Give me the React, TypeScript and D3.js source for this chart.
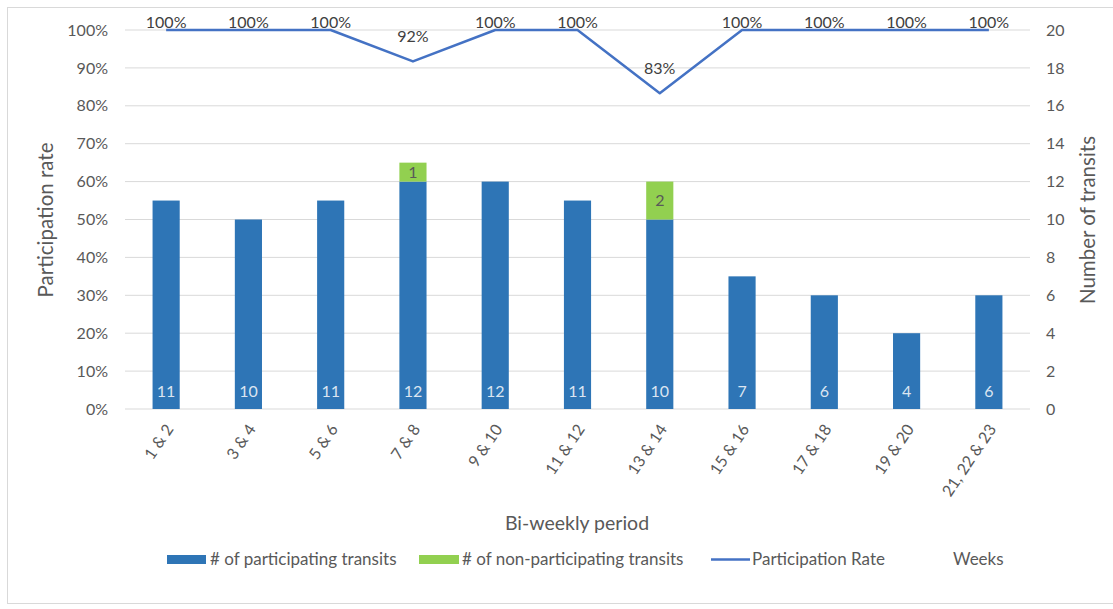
import React from "react";
import * as d3 from "d3";

const categories = ["1 & 2", "3 & 4", "5 & 6", "7 & 8", "9 & 10", "11 & 12", "13 & 14", "15 & 16", "17 & 18", "19 & 20", "21, 22 & 23"];
const participating = [11, 10, 11, 12, 12, 11, 10, 7, 6, 4, 6];
const nonParticipating = [0, 0, 0, 1, 0, 0, 2, 0, 0, 0, 0];
const rateValues = [100, 100, 100, 91.7, 100, 100, 83.3, 100, 100, 100, 100];
const rateLabels = ["100%", "100%", "100%", "92%", "100%", "100%", "83%", "100%", "100%", "100%", "100%"];
const leftTicks = [0, 10, 20, 30, 40, 50, 60, 70, 80, 90, 100];
const rightTicks = [0, 2, 4, 6, 8, 10, 12, 14, 16, 18, 20];

const W = 1113, H = 609;
const M = { left: 125, right: 1030, top: 30, bottom: 409 };
const FONT = "Lato, 'Open Sans', sans-serif";
const GRAY = "#595959";
const BLUE = "#2E75B6";
const GREEN = "#92D050";
const LINE = "#4472C4";

export default function App() {
  const x = d3.scaleBand<string>().domain(categories).range([M.left, M.right]).paddingInner(0).paddingOuter(0);
  const bw = x.bandwidth() * 0.33;
  const yL = d3.scaleLinear().domain([0, 100]).range([M.bottom, M.top]);
  const yR = d3.scaleLinear().domain([0, 20]).range([M.bottom, M.top]);
  const cx = (c: string) => (x(c) as number) + x.bandwidth() / 2;
  const line = d3.line<number>().x((_, i) => cx(categories[i])).y((v) => yL(v));

  return (
    <svg width={W} height={H} style={{ position: "absolute", left: 0, top: 0, background: "#fff" }} fontFamily={FONT}>
      <rect x={7.5} y={7.5} width={1110} height={596} fill="#fff" stroke="#d9d9d9" />
      {leftTicks.map((t) => (
        <line key={t} x1={M.left} x2={M.right} y1={yL(t)} y2={yL(t)} stroke="#d9d9d9" strokeWidth={1} />
      ))}
      {leftTicks.map((t) => (
        <text key={"l" + t} x={108} y={yL(t)} dy="0.35em" textAnchor="end" fontSize={16} fill={GRAY}>{t}%</text>
      ))}
      {rightTicks.map((t) => (
        <text key={"r" + t} x={1046} y={yR(t)} dy="0.35em" textAnchor="start" fontSize={16} fill={GRAY}>{t}</text>
      ))}
      <text transform={`translate(53,220) rotate(-90)`} textAnchor="middle" fontSize={20.5} fill={GRAY}>Participation rate</text>
      <text transform={`translate(1095,220) rotate(-90)`} textAnchor="middle" fontSize={20.5} fill={GRAY}>Number of transits</text>

      {categories.map((c, i) => (
        <g key={c}>
          <rect x={cx(c) - bw / 2} y={yR(participating[i])} width={bw} height={yR(0) - yR(participating[i])} fill={BLUE} />
          {nonParticipating[i] > 0 && (
            <rect x={cx(c) - bw / 2} y={yR(participating[i] + nonParticipating[i])} width={bw} height={yR(participating[i]) - yR(participating[i] + nonParticipating[i])} fill={GREEN} />
          )}
          <text x={cx(c)} y={391} dy="0.35em" textAnchor="middle" fontSize={16} fill="#dbe5f1">{participating[i]}</text>
          {nonParticipating[i] > 0 && (
            <text x={cx(c)} y={(yR(participating[i]) + yR(participating[i] + nonParticipating[i])) / 2} dy="0.35em" textAnchor="middle" fontSize={16} fill={GRAY}>{nonParticipating[i]}</text>
          )}
          <text transform={`translate(${cx(c) + 8},${429}) rotate(-56)`} textAnchor="end" fontSize={16} fill={GRAY}>{c}</text>
        </g>
      ))}

      <path d={line(rateValues) as string} fill="none" stroke={LINE} strokeWidth={2.5} strokeLinejoin="round" />
      {categories.map((c, i) => (
        <text key={"rl" + c} x={cx(c)} y={Math.max(yL(rateValues[i]) - 19, 28)} textAnchor="middle" fontSize={16} fill="#404040">{rateLabels[i]}</text>
      ))}

      <text x={577} y={530} textAnchor="middle" fontSize={19.5} fill={GRAY}>Bi-weekly period</text>

      <g fontSize={17} fill={GRAY}>
        <rect x={167} y={555} width={39} height={9} fill={BLUE} />
        <text x={210} y={559.5} dy="0.35em" fill={GRAY}># of participating transits</text>
        <rect x={419} y={555} width={40} height={9} fill={GREEN} />
        <text x={462} y={559.5} dy="0.35em" fill={GRAY}># of non-participating transits</text>
        <line x1={711} x2={750} y1={559.5} y2={559.5} stroke={LINE} strokeWidth={2.5} />
        <text x={752} y={559.5} dy="0.35em" fill={GRAY}>Participation Rate</text>
        <text x={953} y={559.5} dy="0.35em" fill={GRAY}>Weeks</text>
      </g>
    </svg>
  );
}
